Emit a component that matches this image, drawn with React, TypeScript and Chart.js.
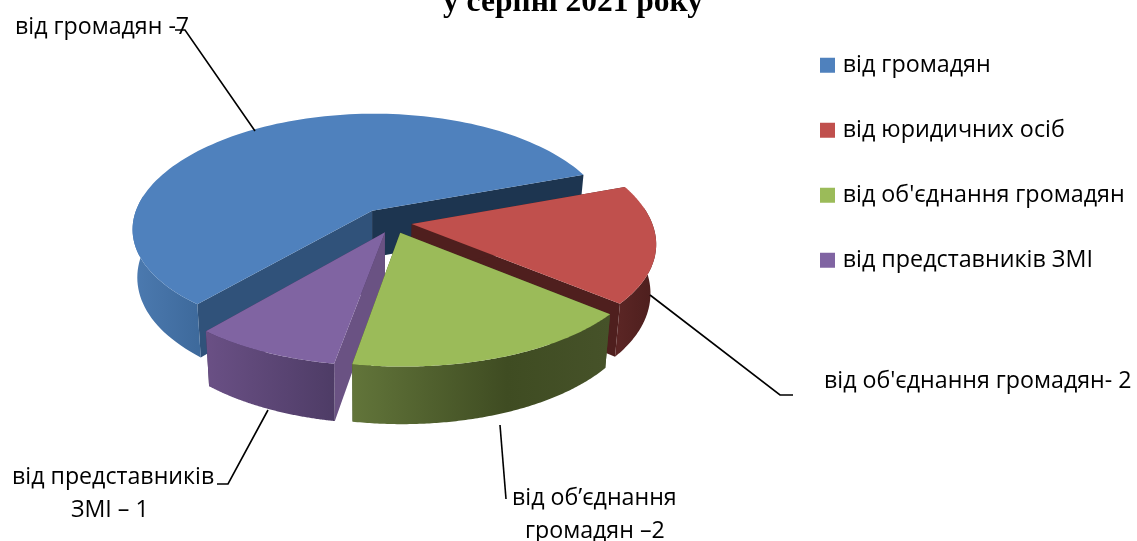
import React, { useEffect, useRef } from "react";
import { Chart, registerables } from "chart.js";

Chart.register(...registerables);

const categories = ["від громадян", "від юридичних осіб", "від об'єднання громадян", "від представників ЗМІ"];
const values = [7, 2, 2, 1];
const titleText = "у серпні 2021 року";
const topColors = ["#4F81BD", "#C0504D", "#9BBB59", "#8064A2"];
const wallStops = [
  ["#4C7AB0", "#3E6A9C"],
  ["#5A2524", "#4C1E1D"],
  ["#62753A", "#3F4C22", "#465229"],
  ["#6A5085", "#4E3C66"],
];
const faceColors = [
  ["#1D3550", "#30527A"],
  ["#4F1F1E", "#4F1F1E"],
  ["#3F4C22", "#3F4C22"],
  ["#3F2F55", "#6A5283"],
];
const drawOrder = [0, 1, 3, 2];
const nudges = [[-0.01, -0.02], [0, 0], [0.016, 0], [0.03, 0]];

const CX = 388, CY = 222, RADIUS = 240, SQUASH = 0.47, PX = 0.16, PY = 0.134, DEPTH = 47.5, EXPLODE = 0.1, VX = 370, BOTTOM = 0.98;

function project(u: number, v: number) {
  const w = 1 / (1 - PX * v);
  const wy = 1 / (1 - PY * v);
  return { x: CX + RADIUS * u * w, y: CY + RADIUS * SQUASH * v * wy, w };
}
function lower(p: { x: number; y: number; w: number }) {
  return { x: VX + (p.x - VX) * BOTTOM, y: p.y + DEPTH * p.w };
}
function fillPoly(ctx: CanvasRenderingContext2D, pts: { x: number; y: number }[], fill: any) {
  ctx.beginPath();
  pts.forEach((p, i) => (i ? ctx.lineTo(p.x, p.y) : ctx.moveTo(p.x, p.y)));
  ctx.closePath();
  ctx.fillStyle = fill;
  ctx.fill();
}

const pie3d = {
  id: "pie3d",
  afterLayout(chart: any) {
    const t = chart.titleBlock;
    t.left = 373; t.right = 773; t.top = -16; t.bottom = 22;
    const l = chart.legend;
    const pad = l.options.labels.padding;
    l.left = 824 - pad; l.right = 1137; l.top = 53.5 - pad; l.bottom = 400;
  },
  beforeDatasetDraw() {
    return false;
  },
  beforeDatasetsDraw(chart: any) {
    const ctx: CanvasRenderingContext2D = chart.ctx;
    const arcs = chart.getDatasetMeta(0).data;
    for (const i of drawOrder) {
      const { startAngle, endAngle } = arcs[i].getProps(["startAngle", "endAngle"], true);
      const mid = (startAngle + endAngle) / 2;
      const ou = EXPLODE * Math.cos(mid) + nudges[i][0];
      const ov = EXPLODE * Math.sin(mid) + nudges[i][1];
      const apex = project(ou, ov);
      const rim: any[] = [];
      const front: any[] = [];
      const n = 120;
      for (let k = 0; k <= n; k++) {
        const a = startAngle + ((endAngle - startAngle) * k) / n;
        const p = project(ou + Math.cos(a), ov + Math.sin(a));
        rim.push(p);
        if (Math.sin(a) > -0.15) front.push(p);
      }
      // radial cut faces
      fillPoly(ctx, [apex, rim[n], lower(rim[n]), lower(apex)], faceColors[i][0]);
      fillPoly(ctx, [apex, rim[0], lower(rim[0]), lower(apex)], faceColors[i][1]);
      // outer wall, front part only
      const xs = front.map((p) => p.x);
      const g = ctx.createLinearGradient(Math.min(...xs), 0, Math.max(...xs), 0);
      const stops = wallStops[i];
      if (stops.length === 3) {
        g.addColorStop(0, stops[0]); g.addColorStop(0.6, stops[1]); g.addColorStop(1, stops[2]);
      } else {
        g.addColorStop(0, stops[0]); g.addColorStop(1, stops[1]);
      }
      fillPoly(ctx, [...front, ...front.map(lower).reverse()], g);
      // top
      fillPoly(ctx, [apex, ...rim], arcs[i].options.backgroundColor);
    }
  },
  afterDraw(chart: any) {
    const ctx: CanvasRenderingContext2D = chart.ctx;
    ctx.save();
    ctx.strokeStyle = "#000";
    ctx.lineWidth = 1.6;
    const leaders = [
      [[175, 30], [185, 30], [255, 131]],
      [[650, 295], [780, 395], [793, 395]],
      [[500, 425], [506, 499]],
      [[268, 410], [228, 484], [217, 484]],
    ];
    for (const line of leaders) {
      ctx.beginPath();
      line.forEach((p, i) => (i ? ctx.lineTo(p[0], p[1]) : ctx.moveTo(p[0], p[1])));
      ctx.stroke();
    }
    ctx.fillStyle = "#000";
    ctx.font = '23.2px "Open Sans"';
    ctx.textBaseline = "alphabetic";
    const labels: [string, number, number][] = [
      ["від громадян -7", 15, 34],
      ["від об'єднання громадян- 2", 824, 388],
      ["від об’єднання", 512, 505],
      ["громадян –2", 525, 538],
      ["від представників", 12, 484],
      ["ЗМІ – 1", 71, 517],
    ];
    for (const [t, x, y] of labels) ctx.fillText(t, x, y);
    ctx.restore();
  },
};

export default function App() {
  const ref = useRef<HTMLCanvasElement>(null);
  useEffect(() => {
    const chart = new Chart(ref.current as HTMLCanvasElement, {
      type: "pie",
      data: {
        labels: categories,
        datasets: [{ data: values, backgroundColor: topColors, borderWidth: 0 }],
      },
      options: {
        responsive: false,
        animation: false,
        rotation: 220,
        radius: RADIUS,
        plugins: {
          title: { display: true, text: titleText, color: "#000", font: { family: '"Liberation Serif"', size: 31.5, weight: "bold" }, padding: 0 },
          legend: {
            display: true,
            position: "right",
            align: "start",
            labels: { usePointStyle: true, pointStyle: "rect", boxWidth: 7, boxHeight: 15, padding: 41.7, color: "#000", font: { family: '"Open Sans"', size: 23.3 } },
          },
          tooltip: { enabled: false },
        },
      } as any,
      plugins: [pie3d as any],
    });
    return () => chart.destroy();
  }, []);
  return (
    <div style={{ position: "absolute", left: 0, top: 0, width: 1137, height: 541, background: "#fff" }}>
      <canvas ref={ref} width={1137} height={541} style={{ display: "block" }} />
    </div>
  );
}
